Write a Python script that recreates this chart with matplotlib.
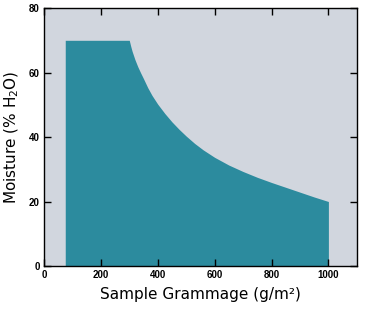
import matplotlib
matplotlib.use("Agg")
import matplotlib.pyplot as plt

# values
grammage = [75, 300, 305, 310, 320, 330, 340, 350, 365, 380, 400, 425, 450,
            475, 500, 530, 560, 600, 650, 700, 750, 800, 850, 900, 950, 1000]
moisture = [70, 70, 68.2, 66.6, 64, 61.8, 59.9, 58.1, 55.3, 52.9, 50.2,
            47.3, 44.7, 42.4, 40.3, 38.0, 36.0, 33.7, 31.3, 29.3, 27.5,
            25.9, 24.4, 22.9, 21.4, 20]

x_ticks = [0, 200, 400, 600, 800, 1000]
y_ticks = [0, 20, 40, 60, 80]

fig = plt.figure(figsize=(3.66, 3.10), dpi=100)
ax = fig.add_axes([0.120, 0.142, 0.855, 0.832])
ax.set_facecolor("#d1d6de")

ax.fill_between(grammage, 0, moisture, color="#2c8b9e", linewidth=0)

ax.set_xlim(0, 1100)
ax.set_ylim(0, 80)
ax.set_xticks(x_ticks)
ax.set_yticks(y_ticks)
ax.tick_params(direction="in", top=True, right=True, length=5, width=1,
               labelsize=7, pad=3)
for lab in ax.get_xticklabels() + ax.get_yticklabels():
    lab.set_family("Liberation Sans")
    lab.set_fontweight("bold")
for sp in ax.spines.values():
    sp.set_linewidth(1)

ax.set_xlabel("Sample Grammage (g/m²)", fontsize=11, labelpad=5)
ax.set_ylabel("Moisture (% H$_2$O)", fontsize=11, labelpad=6)

fig.savefig("out.png", dpi=100)
